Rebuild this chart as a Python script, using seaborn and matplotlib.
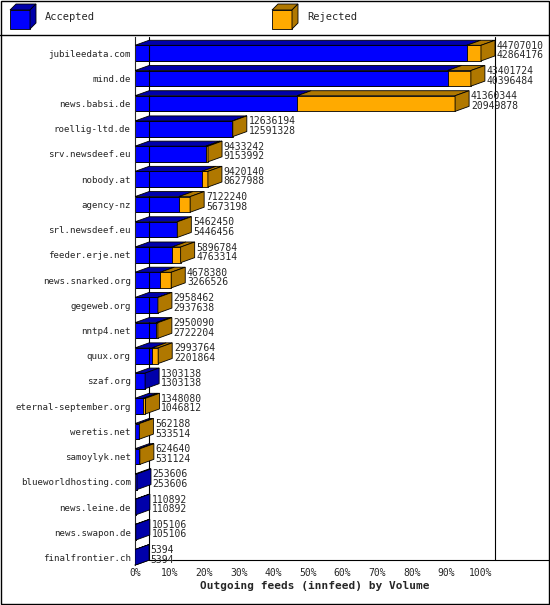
import numpy as np
import pandas as pd
import matplotlib
matplotlib.use("Agg")
import matplotlib.pyplot as plt
from matplotlib.patches import Polygon, Rectangle
import seaborn as sns

hosts = ["jubileedata.com", "mind.de", "news.babsi.de", "roellig-ltd.de", "srv.newsdeef.eu",
         "nobody.at", "agency-nz", "srl.newsdeef.eu", "feeder.erje.net", "news.snarked.org",
         "gegeweb.org", "nntp4.net", "quux.org", "szaf.org", "eternal-september.org",
         "weretis.net", "samoylyk.net", "blueworldhosting.com", "news.leine.de",
         "news.swapon.de", "finalfrontier.ch"]
offered = [44707010, 43401724, 41360344, 12636194, 9433242, 9420140, 7122240, 5462450,
           5896784, 4678380, 2958462, 2950090, 2993764, 1303138, 1348080, 562188, 624640,
           253606, 110892, 105106, 5394]
accepted = [42864176, 40396484, 20949878, 12591328, 9153992, 8627988, 5673198, 5446456,
            4763314, 3266526, 2937638, 2722204, 2201864, 1303138, 1046812, 533514, 531124,
            253606, 110892, 105106, 5394]

BLUE, BLUE_D = "#0000ff", "#0000aa"
ORANGE, ORANGE_D = "#ffaa00", "#b07800"

sns.set_style("white")
plt.rcParams["font.family"] = ["DejaVu Sans Mono"]
plt.rcParams["font.size"] = 7

df = pd.DataFrame({"host": hosts, "offered": offered, "accepted": accepted})
vmax = df["offered"].max()
df["tot"] = df["offered"] / vmax
df["acc"] = df["accepted"] / vmax

fig = plt.figure(figsize=(5.5, 6.05), dpi=100)
ax = fig.add_axes([135 / 550, 40 / 605, 360 / 550, 528 / 605])

H = 0.62
sns.barplot(data=df, x="tot", y="host", color=ORANGE, orient="h", width=H,
            edgecolor="black", linewidth=0.6, ax=ax, saturation=1)
sns.barplot(data=df, x="acc", y="host", color=BLUE, orient="h", width=H,
            edgecolor="black", linewidth=0.6, ax=ax, saturation=1)

# 3D depth, 14px right and 5px up
scale = 345.0
dx = 14 / scale
dy = 5 / 25.0
for i, (a, t) in enumerate(zip(df["acc"], df["tot"])):
    top = i - H / 2
    bot = i + H / 2
    ax.add_patch(Polygon([(0, top), (dx, top - dy), (a + dx, top - dy), (a, top)],
                         closed=True, fc=BLUE_D, ec="black", lw=0.6, zorder=3))
    if t > a:
        ax.add_patch(Polygon([(a, top), (a + dx, top - dy), (t + dx, top - dy), (t, top)],
                             closed=True, fc=ORANGE_D, ec="black", lw=0.6, zorder=3))
    ax.add_patch(Polygon([(t, top), (t + dx, top - dy), (t + dx, bot - dy), (t, bot)],
                         closed=True, fc=ORANGE_D if t > a else BLUE_D, ec="black", lw=0.6, zorder=3))
    ax.text(t + dx + 0.005, i - 0.1, f"{offered[i]}\n{accepted[i]}", va="center", ha="left",
            fontsize=7, linespacing=0.95, zorder=4)

n = len(hosts)
ax.set_ylim(n - 1 + 0.3, -0.64)
ax.set_xlim(0, 1 + dx)
ax.set_xticks(np.arange(0, 1.01, 0.1))
ax.set_xticklabels([f"{int(round(v * 100))}%" for v in np.arange(0, 1.01, 0.1)])
ax.set_xlabel("Outgoing feeds (innfeed) by Volume", fontweight="bold", fontsize=8, labelpad=2)
ax.set_ylabel("")
for s in ["top", "bottom", "right"]:
    ax.spines[s].set_visible(False)
ax.spines["left"].set_linewidth(0.8)
ax.tick_params(axis="y", length=0, pad=3, labelsize=6.6)
ax.tick_params(axis="x", length=0, pad=2)
yb = n - 1 + 0.3
ax.plot([dx, dx], [yb - dy, -0.64], color="black", lw=0.8, zorder=1, clip_on=False)
ax.plot([1 + dx, 1 + dx], [yb - dy, -0.64], color="black", lw=0.8, zorder=1, clip_on=False)
ax.plot([dx, 1 + dx], [yb - dy, yb - dy], color="black", lw=0.8, zorder=1, clip_on=False)
ax.plot([0, dx], [yb, yb - dy], color="black", lw=0.8, zorder=1, clip_on=False)
ax.plot([1 + dx, 1 + dx + 0.2], [yb - dy, yb - dy], color="black", lw=0.8, zorder=1, clip_on=False)

fig.add_artist(Rectangle((0.002, 0.002), 0.996, 0.996, transform=fig.transFigure,
                         fill=False, ec="black", lw=1))
fig.add_artist(plt.Line2D([0, 1], [1 - 35 / 605] * 2, transform=fig.transFigure, color="black", lw=1))


def leg_box(x, color, dark, label):
    W, Hh, d, v = 20 / 550, 19 / 605, 6 / 550, 6 / 605
    y0 = 1 - 29 / 605
    kw = dict(transform=fig.transFigure, ec="black", lw=0.6)
    fig.add_artist(Rectangle((x, y0), W, Hh, fc=color, **kw))
    fig.add_artist(Polygon([(x, y0 + Hh), (x + d, y0 + Hh + v), (x + W + d, y0 + Hh + v), (x + W, y0 + Hh)], fc=dark, **kw))
    fig.add_artist(Polygon([(x + W, y0), (x + W + d, y0 + v), (x + W + d, y0 + Hh + v), (x + W, y0 + Hh)], fc=dark, **kw))
    fig.text(x + W + d + 9 / 550, y0 + Hh / 2 + v / 2, label, va="center", fontsize=7.5)


leg_box(10 / 550, BLUE, BLUE_D, "Accepted")
leg_box(272 / 550, ORANGE, ORANGE_D, "Rejected")

fig.savefig("out.png", dpi=100)
